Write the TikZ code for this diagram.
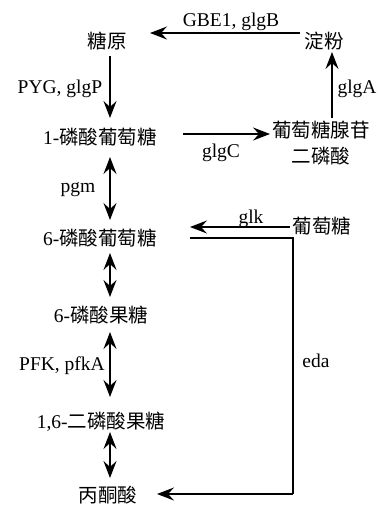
\documentclass[tikz,border=0pt]{standalone}
\usepackage{fontspec}
\setmainfont{Liberation Serif}
\newfontfamily\cjk{Noto Sans CJK SC}
\usetikzlibrary{arrows.meta}
\begin{document}
\begin{tikzpicture}[x=1pt,y=-1pt,
  every node/.style={inner sep=0pt,text height=17pt,text depth=3pt,font=\fontsize{19.5}{26}\selectfont},
  lbl/.style={},
  arr/.style={line width=1.1pt,-{Stealth[length=17pt,width=13pt,inset=6pt]}},
  darr/.style={line width=1.1pt,{Stealth[length=17pt,width=13pt,inset=6pt]}-{Stealth[length=17pt,width=13pt,inset=6pt]}}]
\useasboundingbox[fill=white] (0,0) rectangle (378,506);
% substances
\node (tangyuan) at (107,41) {\cjk 糖原};
\node (dianfen) at (324,41) {\cjk 淀粉};
\node (g1p) at (100,137) {1-{\cjk 磷酸葡萄糖}};
\node[align=center] (adpg) at (321,156) {\cjk 葡萄糖腺苷\\\cjk 二磷酸};
\node (g6p) at (100,238) {6-{\cjk 磷酸葡萄糖}};
\node (glc) at (322,226) {\cjk 葡萄糖};
\node (f6p) at (101,315) {6-{\cjk 磷酸果糖}};
\node (fbp) at (101,421) {1,6-{\cjk 二磷酸果糖}};
\node (pyr) at (108,495) {\cjk 丙酮酸};
% enzyme labels
\node[lbl] (lGBE) at (231,20) {GBE1, glgB};
\node[lbl] (lPYG) at (60,86) {PYG, glgP};
\node[lbl] (lglgA) at (357,86) {glgA};
\node[lbl] (lglgC) at (221,150) {glgC};
\node[lbl] (lpgm) at (78,185) {pgm};
\node[lbl] (lglk) at (251,216) {glk};
\node[lbl] (leda) at (316,360) {eda};
\node[lbl] (lPFK) at (62,363) {PFK, pfkA};
% connectors
\draw[arr] ([shift={(-24pt,8pt)}]dianfen.center) -- ([shift={(43pt,8pt)}]tangyuan.center);
\draw[arr] ([shift={(3pt,-15pt)}]tangyuan.center) -- ([shift={(10pt,19pt)}]g1p.center);
\draw[darr] ([shift={(10pt,-20pt)}]g1p.center) -- ([shift={(10pt,18pt)}]g6p.center);
\draw[darr] ([shift={(10pt,-15pt)}]g6p.center) -- ([shift={(9pt,18pt)}]f6p.center);
\draw[darr] ([shift={(9pt,-17pt)}]f6p.center) -- ([shift={(9pt,24pt)}]fbp.center);
\draw[darr] ([shift={(9pt,-11pt)}]fbp.center) -- ([shift={(2pt,17pt)}]pyr.center);
\draw[arr] ([shift={(83pt,3pt)}]g1p.center) -- ([shift={(-51pt,22pt)}]adpg.center);
\draw[arr] ([shift={(11pt,38pt)}]adpg.center) -- ([shift={(8pt,-11pt)}]dianfen.center);
\draw[arr] ([shift={(-32pt,-1pt)}]glc.center) -- ([shift={(90pt,11pt)}]g6p.center);
\coordinate (edaS) at ([xshift=90pt]g6p.center);
\coordinate (edaE) at ([shift={(49pt,1pt)}]pyr.center);
\coordinate (edaX) at (293,0);
\draw[line width=1.1pt] (edaS) -- (edaS -| edaX) -- (edaE -| edaX);
\draw[arr] (edaE -| edaX) -- (edaE);
\end{tikzpicture}
\end{document}
